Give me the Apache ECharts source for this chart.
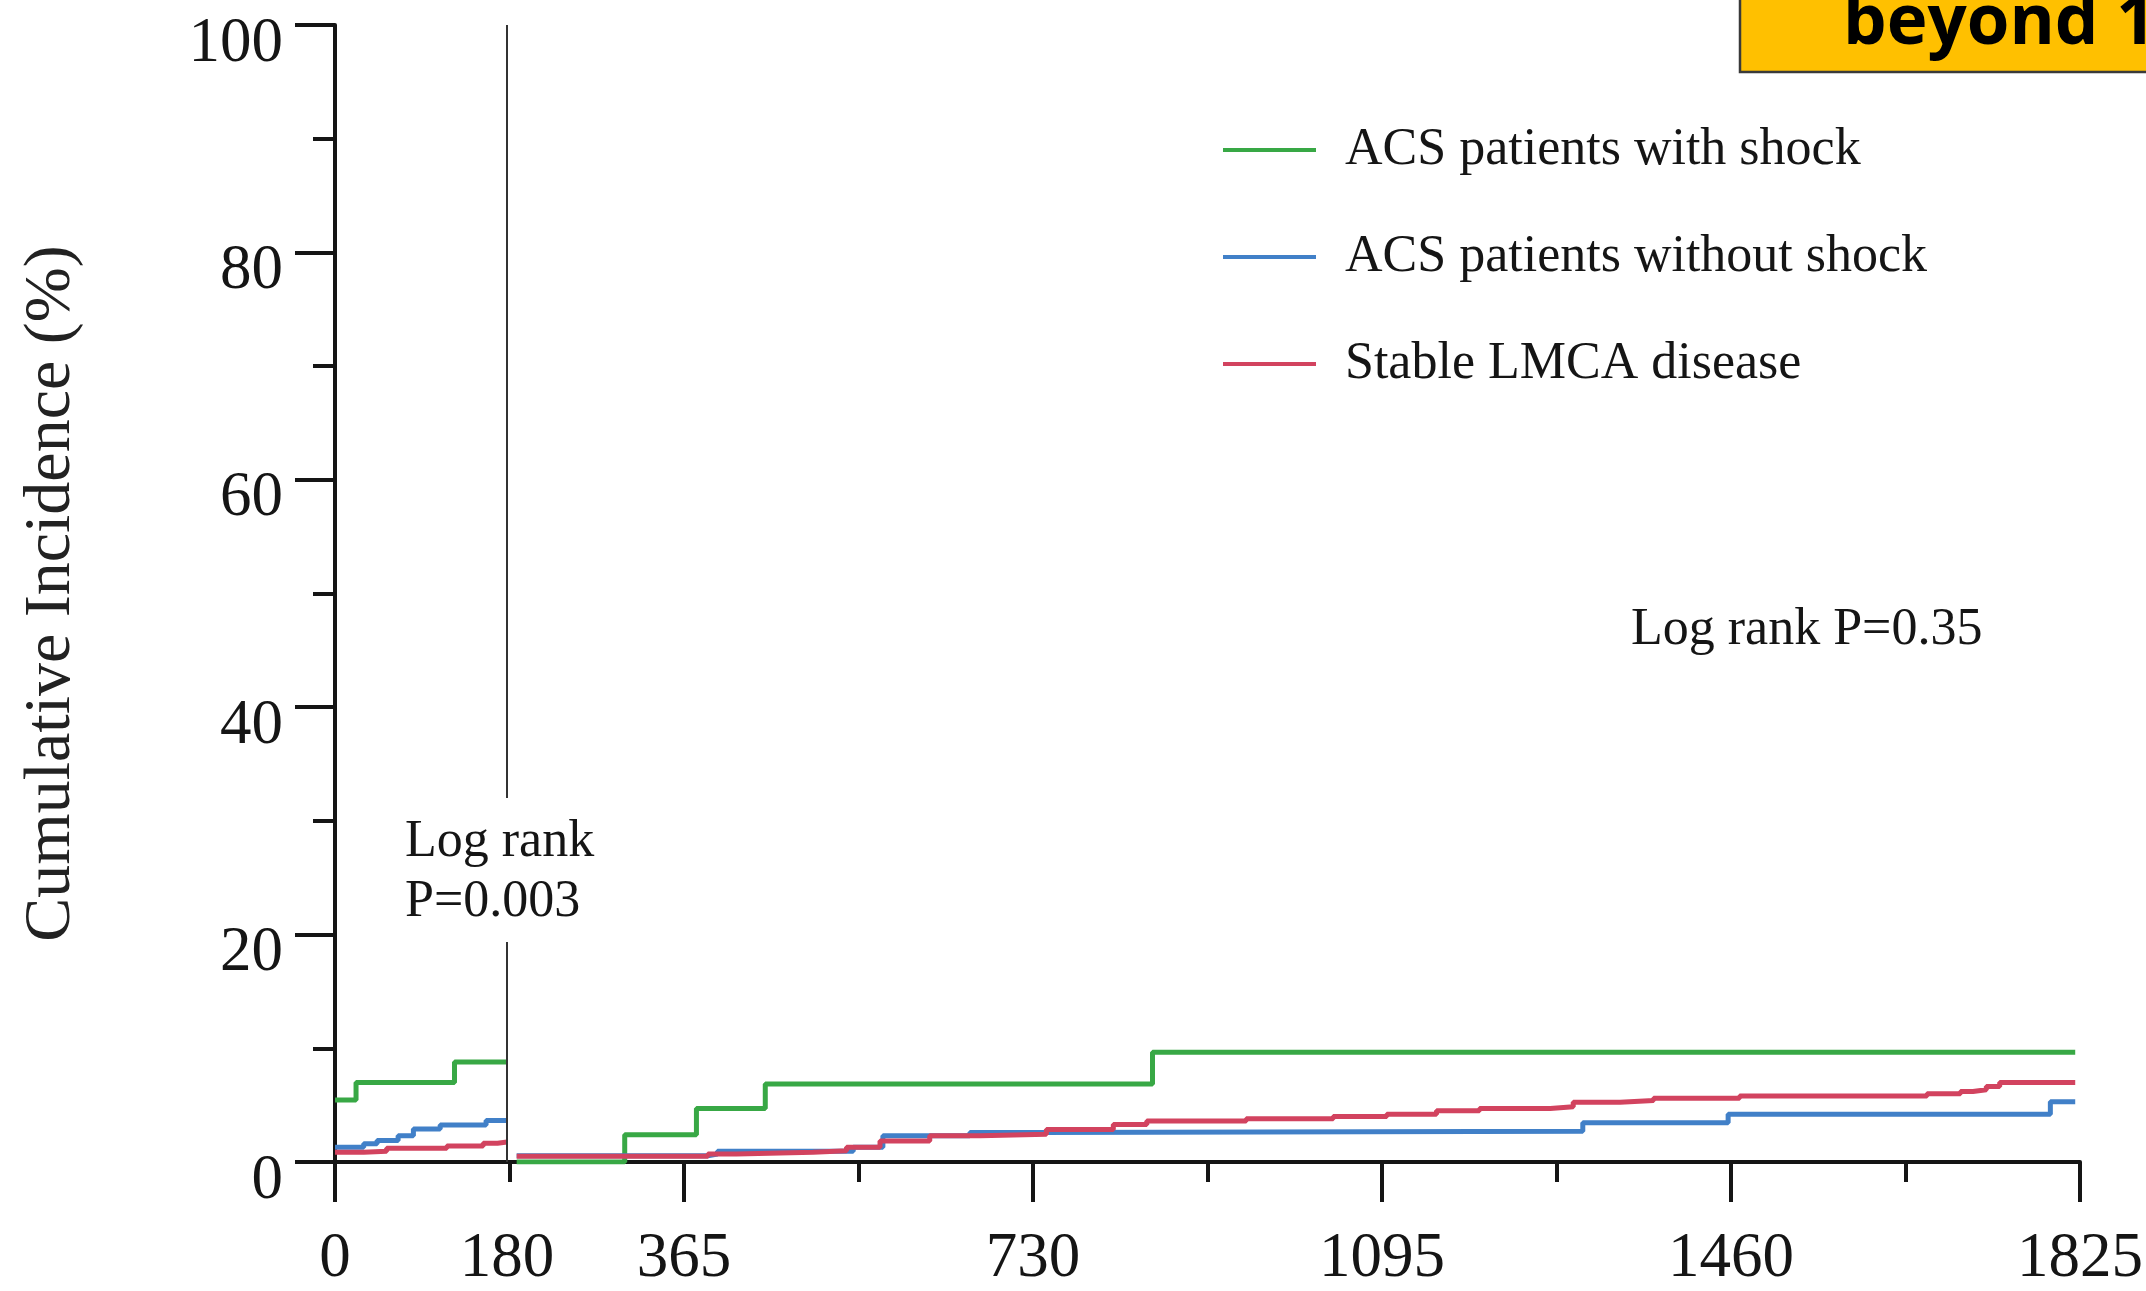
<!DOCTYPE html>
<html>
<head>
<meta charset="utf-8">
<script src="https://cdn.jsdelivr.net/npm/echarts@6/dist/echarts.min.js"></script>
<style>
  html, body { margin: 0; padding: 0; background: #ffffff; }
  #chart { width: 2146px; height: 1291px; }
</style>
</head>
<body>
<div id="chart"></div>
<script>
// Group names, in legend order
const seriesNames = ['ACS patients with shock', 'ACS patients without shock', 'Stable LMCA disease'];

// Day labels on the time axis and the landmark day
const xTickLabels = [0, 180, 365, 730, 1095, 1460, 1825];
const landmarkDay = 180;

// Cumulative incidence (%) as [day, value] steps, first 180 days
const shockEarly   = [[0, 5.45], [22, 7.0], [125, 8.8], [180, 8.8]];
const noShockEarly = [[0, 1.3], [30, 1.6], [44, 1.9], [66, 2.3], [82, 2.9], [110, 3.25], [158, 3.65], [180, 3.65]];
const stableEarly  = [[0, 0.85], [30, 0.95], [54, 1.2], [117, 1.4], [155, 1.65], [170, 1.75], [180, 1.75]];

// Cumulative incidence (%) after the landmark, restarted at day 180
const shockLate   = [[190, 0], [303, 2.4], [378, 4.7], [450, 6.85], [855, 9.65], [1820, 9.65]];
const noShockLate = [[190, 0.55], [390, 0.7], [400, 0.95], [542, 1.3], [573, 2.3], [664, 2.6], [740, 2.7],
                     [1305, 3.45], [1457, 4.2], [1794, 5.3], [1820, 5.3]];
const stableLate  = [[190, 0.5], [390, 0.7], [420, 0.85], [500, 1.0], [535, 1.3], [570, 1.85], [622, 2.3],
                     [675, 2.45], [744, 2.85], [814, 3.3], [849, 3.6], [953, 3.8], [1044, 4.0], [1100, 4.2],
                     [1152, 4.5], [1197, 4.7], [1271, 4.85], [1295, 5.25], [1344, 5.4], [1379, 5.6],
                     [1469, 5.8], [1665, 6.0], [1700, 6.2], [1713, 6.35], [1727, 6.65], [1741, 7.0], [1820, 7.0]];

const colors = ['#38A845', '#4180C8', '#D2435F'];
const serif = '"Liberation Serif", "DejaVu Serif", serif';
const ink = '#151515';

function stepSeries(name, data, color, extra) {
  return Object.assign({
    name: name,
    type: 'line',
    step: 'end',
    data: data,
    symbol: 'none',
    silent: true,
    lineStyle: { color: color, width: 5 },
    itemStyle: { color: color },
    animation: false
  }, extra || {});
}

const chart = echarts.init(document.getElementById('chart'), null, { renderer: 'canvas' });

chart.setOption({
  backgroundColor: '#ffffff',
  animation: false,
  grid: { left: 335, right: 66, top: 25, bottom: 128 },
  legend: {
    data: seriesNames,
    orient: 'vertical',
    left: 1218,
    top: 115,
    icon: 'rect',
    itemWidth: 93,
    itemHeight: 4,
    itemGap: 47,
    textStyle: { fontFamily: serif, fontSize: 52, color: ink, lineHeight: 60, padding: [0, 0, 0, 24] },
    selectedMode: false
  },
  xAxis: {
    type: 'value',
    min: 0,
    max: 1825,
    interval: 365,
    axisLine: { lineStyle: { color: ink, width: 4 } },
    axisTick: { length: 40, lineStyle: { color: ink, width: 4 } },
    minorTick: { show: true, splitNumber: 2, length: 20, lineStyle: { color: ink, width: 4 } },
    splitLine: { show: false },
    minorSplitLine: { show: false },
    axisLabel: {
      customValues: xTickLabels,
      formatter: v => String(v),
      fontFamily: serif,
      fontSize: 63,
      color: ink,
      margin: 66
    }
  },
  yAxis: {
    type: 'value',
    min: 0,
    max: 100,
    interval: 20,
    name: 'Cumulative Incidence (%)',
    nameLocation: 'middle',
    nameGap: 250,
    nameTextStyle: { fontFamily: serif, fontSize: 66, color: '#222' },
    axisLine: { show: true, lineStyle: { color: ink, width: 4 } },
    axisTick: { show: true, length: 40, lineStyle: { color: ink, width: 4 } },
    minorTick: { show: true, splitNumber: 2, length: 22, lineStyle: { color: ink, width: 4 } },
    splitLine: { show: false },
    minorSplitLine: { show: false },
    axisLabel: {
      fontFamily: serif,
      fontSize: 63,
      color: ink,
      margin: 52,
      verticalAlign: 'top',
      lineHeight: 38
    }
  },
  series: [
    stepSeries(seriesNames[0], shockEarly, colors[0], {
      markLine: {
        silent: true,
        symbol: 'none',
        label: { show: false },
        lineStyle: { color: '#333', width: 2, type: 'solid' },
        data: [[{ coord: [landmarkDay, 0] }, { coord: [landmarkDay, 100] }]]
      }
    }),
    stepSeries(seriesNames[0], shockLate, colors[0]),
    stepSeries(seriesNames[1], noShockEarly, colors[1]),
    stepSeries(seriesNames[1], noShockLate, colors[1]),
    stepSeries(seriesNames[2], stableEarly, colors[2]),
    stepSeries(seriesNames[2], stableLate, colors[2])
  ],
  graphic: [
    {
      type: 'text',
      left: 405,
      top: 798,
      z: 100,
      style: {
        text: 'Log rank\nP=0.003',
        font: '52px ' + serif,
        fill: ink,
        lineHeight: 60,
        backgroundColor: '#ffffff',
        padding: [14, 0, 10, 0]
      }
    },
    {
      type: 'text',
      left: 1631,
      top: 600,
      z: 100,
      style: {
        text: 'Log rank P=0.35',
        font: '52px ' + serif,
        fill: ink,
        lineHeight: 60
      }
    },
    {
      type: 'group',
      z: 100,
      children: [
        {
          type: 'rect',
          shape: { x: 1740, y: -10, width: 460, height: 82 },
          style: { fill: '#FFC000', stroke: '#3a3a3a', lineWidth: 2.5 }
        },
        {
          type: 'text',
          x: 1843,
          y: 24,
          style: {
            text: 'beyond 180 days',
            font: 'bold 69px "Open Sans", "Liberation Sans", sans-serif',
            fill: '#000000',
            verticalAlign: 'middle'
          }
        }
      ]
    }
  ]
});
</script>
</body>
</html>
